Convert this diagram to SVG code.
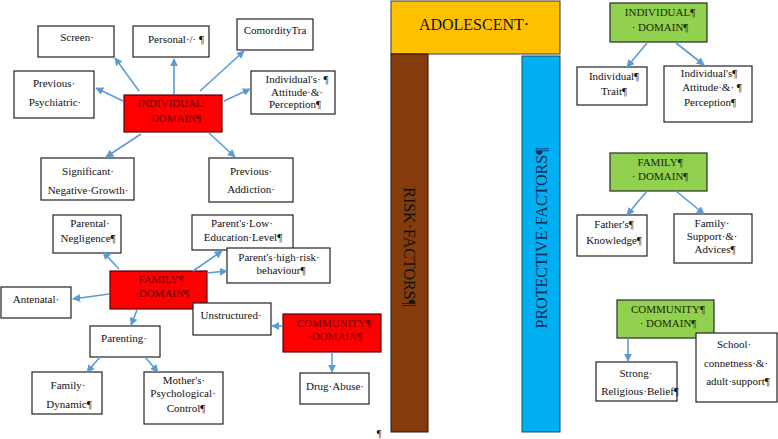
<svg xmlns="http://www.w3.org/2000/svg" width="778" height="439" viewBox="0 0 778 439">
<defs>
<marker id="ah" viewBox="0 0 10 10" refX="9" refY="5" markerWidth="8" markerHeight="8" markerUnits="userSpaceOnUse" orient="auto">
<path d="M0,0 L10,5 L0,10 z" fill="#5B9BD5"/>
</marker>
<style>
.box{fill:#fff;stroke:#222;stroke-width:1.2}
.red{fill:#ff0000;stroke:#5a0000;stroke-width:1.2}
.green{fill:#92d050;stroke:#2a2a2a;stroke-width:1.2}
text{font-family:"Liberation Serif","Times New Roman",serif;font-size:11px;fill:#111;text-anchor:middle}
.rt{fill:#6a0000}
.gt{fill:#1a2a00}
.con line{stroke:#5B9BD5;stroke-width:1.6;marker-end:url(#ah)}
</style>
</defs>
<rect width="778" height="439" fill="#fff"/>

<g id="adolescent">
<rect x="391" y="1" width="169" height="53" fill="#ffc000" stroke="#3a3a3a" stroke-width="1"/>
<text x="474" y="30" style="font-size:16px">ADOLESCENT·</text>
</g>
<g id="risk-factors">
<rect x="391" y="54" width="37" height="378" fill="#843c0c" stroke="#2a1000" stroke-width="1"/>
<text transform="translate(404,247) rotate(90)" style="font-size:16px">RISK·FACTORS¶</text>
</g>
<g id="protective-factors">
<rect x="522" y="56" width="38" height="376" fill="#00b0f0" stroke="#1a4a6a" stroke-width="1"/>
<text transform="translate(547,238) rotate(-90)" style="font-size:16px;fill:#0a2a50">PROTECTIVE·FACTORS¶</text>
</g>

<!-- Risk: individual domain -->
<g id="r-individual">
<rect class="red" x="124" y="95" width="98" height="37"/>
<text class="rt" x="172" y="107">INDIVIDUAL·</text>
<text class="rt" x="176" y="122">DOMAIN¶</text>
</g>
<g id="screen"><rect class="box" x="38" y="26" width="76" height="31"/><text x="77" y="41">Screen·</text></g>
<g id="personal"><rect class="box" x="133" y="26" width="76" height="31"/><text x="176" y="43">Personal·/· ¶</text></g>
<g id="comordity"><rect class="box" x="237" y="19" width="76" height="31"/><text x="275" y="34">ComordityTra</text></g>
<g id="prev-psych"><rect class="box" x="14" y="71" width="80" height="47"/><text x="54" y="87">Previous·</text><text x="55" y="106">Psychiatric·</text></g>
<g id="ind-attitude"><rect class="box" x="251" y="71" width="84" height="43"/><text x="297" y="83">Individual's· ¶</text><text x="297" y="96">Attitude·&amp;·</text><text x="295" y="108">Perception¶</text></g>
<g id="sig-neg"><rect class="box" x="41" y="158" width="93" height="42"/><text x="88" y="175">Significant·</text><text x="88" y="194">Negative·Growth·</text></g>
<g id="prev-add"><rect class="box" x="209" y="158" width="84" height="44"/><text x="251" y="175">Previous·</text><text x="251" y="193">Addiction·</text></g>

<!-- Risk: family domain -->
<g id="r-family">
<rect class="red" x="110" y="271" width="97" height="38"/>
<text class="rt" x="161" y="283">FAMILY¶</text>
<text class="rt" x="162" y="297">·DOMAIN¶</text>
</g>
<g id="par-neg"><rect class="box" x="53" y="215" width="68" height="38"/><text x="90" y="227">Parental·</text><text x="88" y="242">Negligence¶</text></g>
<g id="low-edu"><rect class="box" x="192" y="215" width="101" height="35"/><text x="242" y="227">Parent's·Low·</text><text x="243" y="241">Education·Level¶</text></g>
<g id="high-risk"><rect class="box" x="227" y="248" width="103" height="35"/><text x="279" y="261">Parent's·high·risk·</text><text x="281" y="274">behaviour¶</text></g>
<g id="antenatal"><rect class="box" x="1" y="287" width="70" height="31"/><text x="36" y="303">Antenatal·</text></g>
<g id="parenting"><rect class="box" x="90" y="326" width="70" height="31"/><text x="124" y="342">Parenting·</text></g>
<g id="fam-dyn"><rect class="box" x="32" y="372" width="70" height="42"/><text x="68" y="389">Family·</text><text x="69" y="408">Dynamic¶</text></g>
<g id="mother"><rect class="box" x="144" y="372" width="79" height="52"/><text x="184" y="384">Mother's·</text><text x="183" y="397">Psychological·</text><text x="186" y="412">Control¶</text></g>

<!-- Risk: community domain -->
<g id="unstructured"><rect class="box" x="193" y="303" width="78" height="32"/><text x="231" y="319">Unstructured·</text></g>
<g id="r-community">
<rect class="red" x="283" y="314" width="98" height="38"/>
<text class="rt" x="334" y="327">COMMUNITY¶</text>
<text class="rt" x="335" y="340">·DOMAIN¶</text>
</g>
<g id="drug"><rect class="box" x="300" y="373" width="69" height="31"/><text x="335" y="390">Drug·Abuse·</text></g>
<text x="379" y="437" style="font-size:10px">¶</text>

<!-- Protective -->
<g id="p-individual">
<rect class="green" x="610" y="3" width="97" height="39"/>
<text class="gt" x="660" y="16">INDIVIDUAL¶</text>
<text class="gt" x="660" y="31">· DOMAIN¶</text>
</g>
<g id="ind-trait"><rect class="box" x="577" y="67" width="70" height="38"/><text x="614" y="80">Individual¶</text><text x="614" y="95">Trait¶</text></g>
<g id="p-attitude"><rect class="box" x="664" y="66" width="88" height="56"/><text x="709" y="77">Individual's¶</text><text x="712" y="91">Attitude·&amp;· ¶</text><text x="710" y="106">Perception¶</text></g>

<g id="p-family">
<rect class="green" x="610" y="153" width="97" height="38"/>
<text class="gt" x="660" y="166">FAMILY¶</text>
<text class="gt" x="660" y="180">· DOMAIN¶</text>
</g>
<g id="father"><rect class="box" x="577" y="215" width="70" height="41"/><text x="614" y="228">Father's¶</text><text x="614" y="244">Knowledge¶</text></g>
<g id="fam-support"><rect class="box" x="674" y="214" width="78" height="49"/><text x="712" y="227">Family·</text><text x="712" y="240">Support·&amp;·</text><text x="715" y="253">Advices¶</text></g>

<g id="p-community">
<rect class="green" x="617" y="300" width="97" height="38"/>
<text class="gt" x="668" y="313">COMMUNITY¶</text>
<text class="gt" x="668" y="327">· DOMAIN¶</text>
</g>
<g id="school"><rect class="box" x="696" y="333" width="81" height="69"/><text x="734" y="348">School·</text><text x="736" y="367">connetness·&amp;·</text><text x="738" y="385">adult·support¶</text></g>
<g id="religious"><rect class="box" x="596" y="362" width="81" height="39"/><text x="636" y="377">Strong·</text><text x="640" y="395">Religious·Belief¶</text></g>

<g id="connectors" class="con">
<line x1="139" y1="91" x2="115" y2="58"/>
<line x1="174" y1="94" x2="174" y2="59"/>
<line x1="200" y1="91" x2="244" y2="51"/>
<line x1="123" y1="101" x2="96" y2="88"/>
<line x1="224" y1="101" x2="250" y2="89"/>
<line x1="141" y1="134" x2="106" y2="157"/>
<line x1="209" y1="133" x2="235" y2="157"/>
<line x1="119" y1="269" x2="103" y2="252"/>
<line x1="193" y1="271" x2="222" y2="251"/>
<line x1="207" y1="273" x2="227" y2="271"/>
<line x1="109" y1="294" x2="73" y2="299"/>
<line x1="137" y1="310" x2="131" y2="325"/>
<line x1="100" y1="357" x2="87" y2="372"/>
<line x1="145" y1="357" x2="158" y2="372"/>
<line x1="282" y1="326" x2="272" y2="326"/>
<line x1="332" y1="352" x2="332" y2="372"/>
<line x1="647" y1="43" x2="627" y2="67"/>
<line x1="676" y1="43" x2="704" y2="65"/>
<line x1="647" y1="191" x2="627" y2="215"/>
<line x1="676" y1="191" x2="704" y2="214"/>
<line x1="628" y1="339" x2="628" y2="361"/>
</g>
</svg>
